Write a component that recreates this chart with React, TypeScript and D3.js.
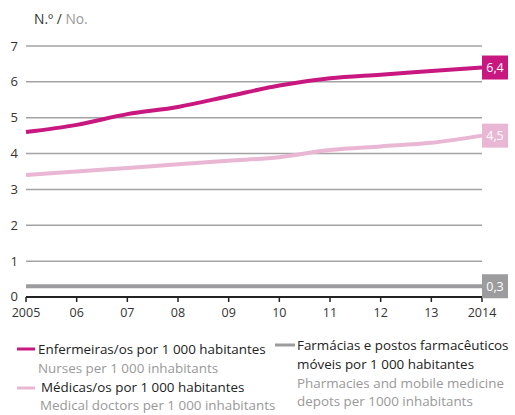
import React from "react";
import * as d3 from "d3";

const years = [2005, 2006, 2007, 2008, 2009, 2010, 2011, 2012, 2013, 2014];
const yearLabels = ["2005", "06", "07", "08", "09", "10", "11", "12", "13", "2014"];
const nurses = [4.6, 4.8, 5.1, 5.3, 5.6, 5.9, 6.1, 6.2, 6.3, 6.4];
const doctors = [3.4, 3.5, 3.6, 3.7, 3.8, 3.9, 4.1, 4.2, 4.3, 4.5];
const pharmacies = [0.3, 0.3, 0.3, 0.3, 0.3, 0.3, 0.3, 0.3, 0.3, 0.3];
const yTicks = [0, 1, 2, 3, 4, 5, 6, 7];
const endLabels = ["6,4", "4,5", "0,3"];

const MAGENTA = "#c8177f";
const PINK = "#e9b6d4";
const GRAY = "#9c9c9e";
const FONT = "'Open Sans', sans-serif";
const LF = 13.4;

export default function App() {
  const x = d3.scaleLinear().domain([2005, 2014]).range([26, 482]);
  const y = d3.scaleLinear().domain([0, 7]).range([297, 46]);
  const line = d3
    .line<number>()
    .x((_, i) => x(years[i]))
    .y((d) => y(d))
    .curve(d3.curveMonotoneX);

  const series = [
    { data: nurses, color: MAGENTA, label: endLabels[0], textColor: "#fff" },
    { data: doctors, color: PINK, label: endLabels[1], textColor: "#fff" },
    { data: pharmacies, color: GRAY, label: endLabels[2], textColor: "#fff" },
  ];

  return (
    <svg
      width={515}
      height={415}
      style={{ position: "absolute", left: 0, top: 0, fontFamily: FONT }}
    >
      <text x={34} y={24} fontSize={13.8} fill="#333">
        N.º <tspan fill="#333">/</tspan> <tspan fill="#999">No.</tspan>
      </text>
      {yTicks.map((t) => (
        <g key={t}>
          {t > 0 && (
            <line x1={26} x2={482} y1={y(t)} y2={y(t)} stroke="#a3a3a3" strokeWidth={1.5} />
          )}
          <text x={18} y={t === 0 ? y(t) - 1 : y(t)} dy="0.35em" textAnchor="end" fontSize={13} fill="#333">
            {t}
          </text>
        </g>
      ))}
      <line x1={26} x2={482} y1={y(0)} y2={y(0)} stroke="#222" strokeWidth={2} />
      {years.map((yr, i) => (
        <g key={yr}>
          <line x1={x(yr)} x2={x(yr)} y1={y(0)} y2={y(0) + 5} stroke="#222" strokeWidth={1.5} />
          <text x={x(yr)} y={313} dy="0.35em" textAnchor="middle" fontSize={12.5} fill="#333">
            {yearLabels[i]}
          </text>
        </g>
      ))}
      {series.map((s) => (
        <path key={s.label} d={line(s.data) || ""} fill="none" stroke={s.color} strokeWidth={4} />
      ))}
      {series.map((s) => {
        const v = s.data[s.data.length - 1];
        const cy = y(v);
        return (
          <g key={"l" + s.label}>
            <rect x={482} y={cy - 12} width={26} height={24} fill={s.color} />
            <text x={495} y={cy} dy="0.35em" textAnchor="middle" fontSize={12.5} fill={s.textColor}>
              {s.label}
            </text>
          </g>
        );
      })}
      {/* legend */}
      <line x1={17} x2={35} y1={349} y2={349} stroke={MAGENTA} strokeWidth={3} />
      <text x={38} y={349} dy="0.35em" fontSize={LF} fill="#222">
        Enfermeiras/os por 1 000 habitantes
      </text>
      <text x={38} y={368} dy="0.35em" fontSize={LF} fill="#999">
        Nurses per 1 000 inhabitants
      </text>
      <line x1={17} x2={35} y1={388} y2={388} stroke={PINK} strokeWidth={3} />
      <text x={41} y={387} dy="0.35em" fontSize={LF} fill="#222">
        Médicas/os por 1 000 habitantes
      </text>
      <text x={40} y={405.5} dy="0.35em" fontSize={LF} fill="#999">
        Medical doctors per 1 000 inhabitants
      </text>
      <line x1={275} x2={295} y1={345} y2={345} stroke={GRAY} strokeWidth={3} />
      <text x={297} y={345} dy="0.35em" fontSize={LF} fill="#222">
        Farmácias e postos farmacêuticos
      </text>
      <text x={297} y={364} dy="0.35em" fontSize={LF} fill="#222">
        móveis por 1 000 habitantes
      </text>
      <text x={297} y={383} dy="0.35em" fontSize={LF} fill="#999">
        Pharmacies and mobile medicine
      </text>
      <text x={297} y={401.5} dy="0.35em" fontSize={LF} fill="#999">
        depots per 1000 inhabitants
      </text>
    </svg>
  );
}
